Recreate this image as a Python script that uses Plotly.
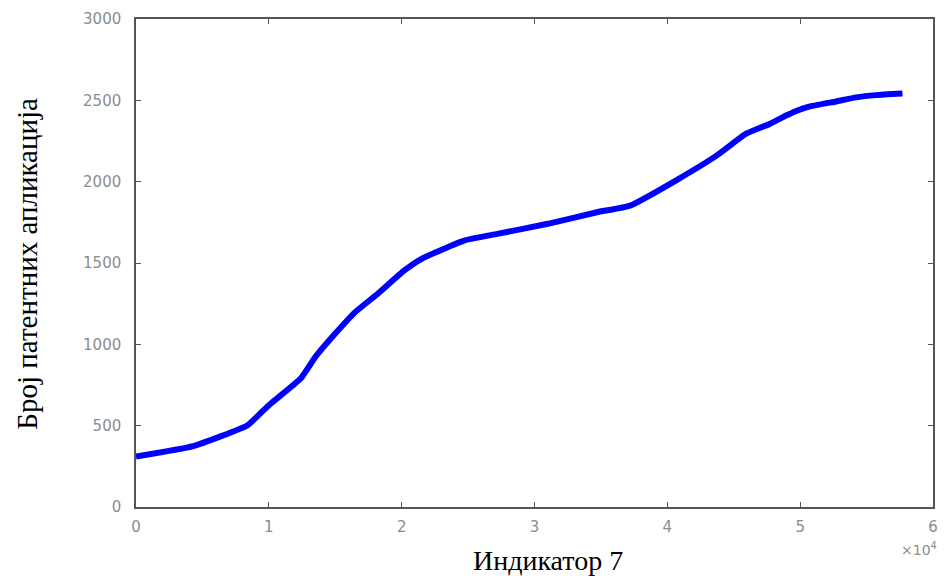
import plotly.graph_objects as go

# Data (x in raw units, axis shown as x10^4)
indicator = [0, 4300, 8400, 10000, 12400, 13500, 15000, 16500, 18200, 20200,
             21500, 24700, 27200, 31000, 34700, 37200, 40700, 43700, 45200,
             45900, 47700, 48900, 49700, 50600, 52700, 54200, 55700, 57700]
applications = [310, 374, 503, 626, 790, 922, 1066, 1198, 1311, 1454,
                1526, 1638, 1679, 1741, 1812, 1853, 2010, 2160, 2252,
                2294, 2355, 2405, 2435, 2460, 2493, 2518, 2532, 2542]

x_tickvals = [0, 10000, 20000, 30000, 40000, 50000, 60000]
x_ticktext = ["0", "1", "2", "3", "4", "5", "6"]
y_tickvals = [0, 500, 1000, 1500, 2000, 2500, 3000]
y_ticktext = ["0", "500", "1000", "1500", "2000", "2500", "3000"]

x_title = "Индикатор 7"
y_title = "Број патентних апликација"

fig = go.Figure()
fig.add_trace(go.Scatter(x=indicator, y=applications, mode="lines",
                         line=dict(color="#0000FF", width=6, shape="spline", smoothing=0.4),
                         showlegend=False))

tickfont = dict(family="DejaVu Sans, Liberation Sans, sans-serif", size=15, color="#8c8c8c")
axis_common = dict(showline=True, linecolor="#555555", linewidth=1.5, mirror="ticks",
                   ticks="inside", ticklen=5, tickcolor="#555555", tickwidth=1,
                   showgrid=False, zeroline=False, tickfont=tickfont)

fig.update_layout(
    width=944, height=576,
    margin=dict(l=136, r=6, t=19, b=69),
    paper_bgcolor="white", plot_bgcolor="white",
    xaxis=dict(range=[0, 60000], tickvals=x_tickvals, ticktext=x_ticktext,
               ticklabelstandoff=5, **axis_common),
    yaxis=dict(range=[0, 3000], tickvals=y_tickvals, ticktext=y_ticktext,
               ticklabelstandoff=10, **axis_common),
    annotations=[
        dict(text=x_title, xref="paper", yref="paper", x=(551 - 136) / 802, y=-(560 - 507) / 488,
             xanchor="center", yanchor="middle", showarrow=False,
             font=dict(family="Liberation Serif, Times New Roman, serif", size=28, color="black")),
        dict(text=y_title, xref="paper", yref="paper", x=(26 - 136) / 802, y=0.498,
             xanchor="center", yanchor="middle", textangle=-90, showarrow=False,
             font=dict(family="Liberation Serif, Times New Roman, serif", size=29, color="black")),
        dict(text="×10<sup>4</sup>", xref="paper", yref="paper", x=1.008, y=-(549 - 507) / 488,
             xanchor="right", yanchor="middle", showarrow=False,
             font=dict(family="DejaVu Sans, Liberation Sans, sans-serif", size=14, color="#8c8c8c")),
    ],
)

fig.write_html("out.html", config={"displayModeBar": False},
               post_script="document.body.style.margin='0';document.body.style.overflow='hidden';")
